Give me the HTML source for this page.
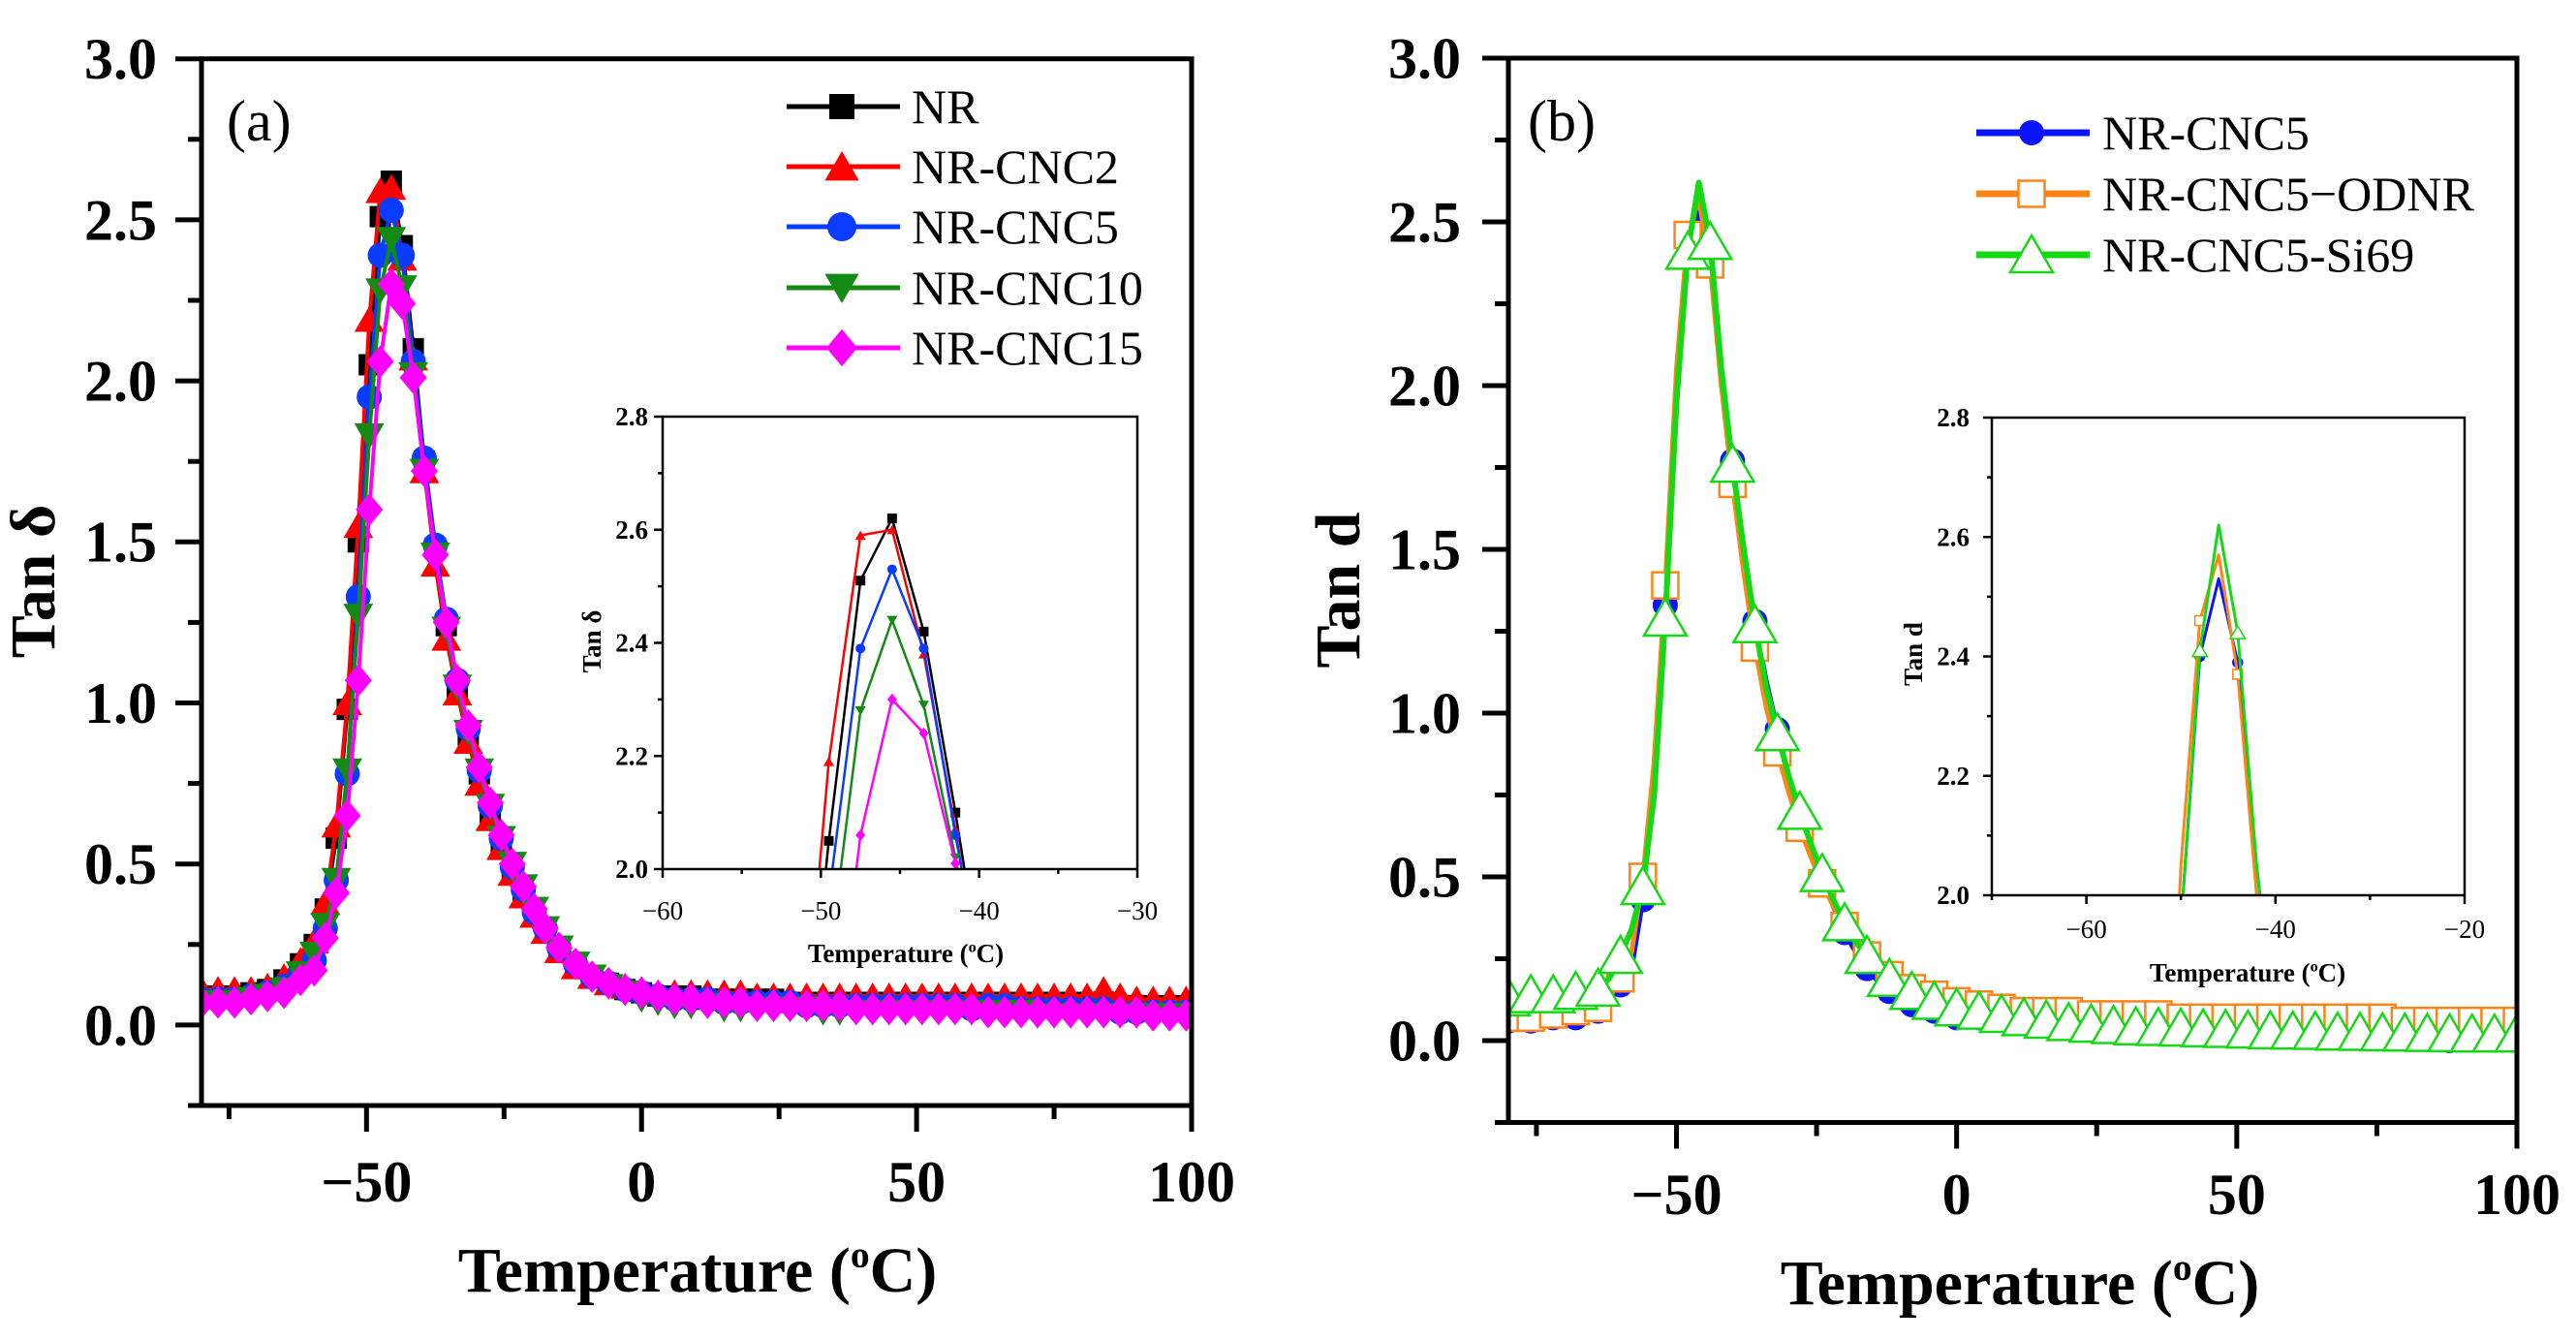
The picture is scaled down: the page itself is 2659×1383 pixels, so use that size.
<!DOCTYPE html>
<html><head><meta charset="utf-8"><style>
html,body{margin:0;padding:0;background:#fff;overflow:hidden;width:2659px;height:1383px;}
svg{display:block;}
svg text{font-family:"Liberation Serif","Times New Roman",Times,serif;}
</style></head><body>
<svg id="chart" width="2659" height="1383" viewBox="0 0 2659 1383" xmlns="http://www.w3.org/2000/svg" font-family="Liberation Serif, Times New Roman, serif">
<defs>
<clipPath id="clipA"><rect x="208" y="60" width="1022" height="1081"/></clipPath>
<clipPath id="clipB"><rect x="1557" y="60" width="1041" height="1099"/></clipPath>
<clipPath id="clipAi"><rect x="684" y="430" width="490" height="467"/></clipPath>
<clipPath id="clipBi"><rect x="2056" y="431" width="488" height="493"/></clipPath>
</defs>
<rect x="0" y="0" width="2659" height="1383" fill="#fff"/>
<g id="panelA"></g>
<g id="panelB"></g>
</svg>
<script>
const NS="http://www.w3.org/2000/svg";
// ---------- Panel (a) data ----------
const tempA=[-80,-77,-74,-71,-68,-65,-62,-59.5,-57.5,-55.5,-53.5,-51.5,-49.5,-47.5,-45.5,-43.5,-41.5,-39.5,-37.5,-35.5,-33.5,-31.5,-29.5,-27.5,-25.5,-23.5,-21.5,-19.5,-17.5,-15,-12,-9,-6,-3,0,3,6,9,12,15,18,21,24,27,30,33,36,39,42,45,48,51,54,57,60,63,66,69,72,75,78,81,84,87,90,93,96,99];
const nrA=[0.09,0.09,0.09,0.10,0.11,0.14,0.19,0.25,0.36,0.58,0.98,1.50,2.05,2.51,2.62,2.42,2.10,1.75,1.48,1.24,1.05,0.90,0.78,0.66,0.56,0.47,0.40,0.34,0.29,0.23,0.18,0.15,0.13,0.11,0.10,0.09,0.09,0.09,0.08,0.08,0.08,0.08,0.08,0.07,0.07,0.07,0.07,0.07,0.07,0.07,0.07,0.07,0.07,0.07,0.07,0.07,0.07,0.07,0.07,0.07,0.07,0.07,0.06,0.06,0.06,0.06,0.06,0.06];
const cnc2A=[0.11,0.11,0.11,0.11,0.12,0.15,0.20,0.26,0.38,0.62,1.00,1.55,2.19,2.59,2.60,2.38,2.07,1.72,1.43,1.20,1.03,0.88,0.75,0.64,0.55,0.47,0.40,0.34,0.29,0.23,0.18,0.15,0.13,0.12,0.11,0.10,0.10,0.10,0.10,0.10,0.10,0.09,0.09,0.09,0.09,0.09,0.09,0.09,0.09,0.09,0.09,0.09,0.09,0.09,0.09,0.09,0.09,0.09,0.09,0.09,0.09,0.09,0.11,0.09,0.08,0.08,0.08,0.08];
const cnc5A=[0.08,0.08,0.08,0.09,0.10,0.12,0.16,0.20,0.30,0.45,0.78,1.33,1.95,2.39,2.53,2.39,2.06,1.76,1.49,1.26,1.07,0.92,0.79,0.68,0.58,0.49,0.42,0.35,0.30,0.24,0.19,0.15,0.13,0.11,0.10,0.09,0.08,0.08,0.08,0.07,0.07,0.07,0.07,0.07,0.06,0.06,0.06,0.06,0.06,0.06,0.06,0.06,0.06,0.06,0.05,0.06,0.06,0.05,0.05,0.05,0.05,0.05,0.05,0.04,0.04,0.04,0.04,0.04];
const cnc10A=[0.07,0.07,0.07,0.08,0.09,0.11,0.16,0.22,0.31,0.45,0.79,1.27,1.83,2.28,2.44,2.29,2.02,1.72,1.46,1.23,1.05,0.91,0.79,0.68,0.58,0.50,0.43,0.36,0.30,0.24,0.19,0.15,0.12,0.10,0.08,0.07,0.06,0.06,0.06,0.05,0.05,0.05,0.05,0.05,0.05,0.04,0.04,0.04,0.04,0.04,0.04,0.04,0.04,0.04,0.04,0.04,0.04,0.04,0.03,0.03,0.03,0.03,0.03,0.03,0.03,0.03,0.03,0.03];
const cnc15A=[0.07,0.07,0.07,0.08,0.09,0.10,0.14,0.17,0.27,0.41,0.65,1.07,1.60,2.06,2.30,2.24,2.01,1.72,1.46,1.25,1.07,0.93,0.80,0.69,0.59,0.50,0.43,0.36,0.30,0.24,0.19,0.15,0.13,0.11,0.10,0.09,0.08,0.08,0.07,0.07,0.07,0.06,0.06,0.06,0.06,0.06,0.06,0.05,0.05,0.05,0.05,0.05,0.05,0.05,0.05,0.04,0.04,0.04,0.04,0.04,0.04,0.04,0.04,0.04,0.04,0.03,0.03,0.03];
// ---------- Panel (b) data ----------
const tempB=[-80,-78,-76,-74,-72,-70,-68,-66,-64,-62,-60,-58,-56,-54,-52,-50,-48,-46,-44,-42,-40,-38,-36,-34,-32,-30,-28,-26,-24,-22,-20,-18,-16,-14,-12,-10,-8,-6,-4,-2,0,2,4,6,8,10,12,14,16,18,20,22,24,26,28,30,32,34,36,38,40,42,44,46,48,50,52,54,56,58,60,62,64,66,68,70,72,74,76,78,80,82,84,86,88,90,92,94,96,98,100];
const cnc5B=[0.06,0.06,0.06,0.06,0.07,0.07,0.07,0.08,0.09,0.12,0.17,0.22,0.43,0.80,1.33,1.95,2.40,2.53,2.39,2.05,1.77,1.50,1.28,1.10,0.95,0.81,0.69,0.59,0.50,0.41,0.33,0.27,0.22,0.18,0.15,0.13,0.11,0.10,0.09,0.08,0.07,0.07,0.07,0.07,0.07,0.07,0.07,0.06,0.06,0.06,0.06,0.06,0.06,0.06,0.06,0.06,0.06,0.06,0.06,0.06,0.06,0.06,0.06,0.06,0.06,0.06,0.06,0.06,0.06,0.06,0.06,0.06,0.06,0.06,0.06,0.06,0.06,0.06,0.06,0.06,0.06,0.06,0.05,0.05,0.00,0.05,0.05,0.05,0.05,0.05,0.05];
const odnrB=[0.07,0.07,0.07,0.08,0.08,0.08,0.09,0.09,0.10,0.13,0.19,0.27,0.50,0.85,1.39,2.05,2.46,2.57,2.37,2.00,1.70,1.43,1.20,1.02,0.88,0.76,0.65,0.56,0.48,0.41,0.35,0.30,0.26,0.23,0.20,0.18,0.16,0.15,0.14,0.13,0.12,0.11,0.11,0.10,0.10,0.10,0.09,0.09,0.09,0.09,0.09,0.08,0.08,0.08,0.08,0.08,0.08,0.08,0.08,0.07,0.07,0.07,0.07,0.07,0.07,0.07,0.07,0.07,0.07,0.07,0.07,0.07,0.07,0.07,0.07,0.07,0.07,0.07,0.07,0.06,0.06,0.06,0.06,0.06,0.06,0.06,0.06,0.06,0.06,0.06,0.06];
const si69B=[0.13,0.13,0.14,0.14,0.14,0.14,0.15,0.15,0.16,0.19,0.26,0.34,0.47,0.75,1.29,1.95,2.41,2.62,2.44,2.05,1.76,1.50,1.27,1.08,0.94,0.81,0.70,0.60,0.51,0.43,0.36,0.30,0.26,0.22,0.19,0.17,0.15,0.13,0.12,0.11,0.10,0.095,0.09,0.085,0.08,0.075,0.07,0.066,0.062,0.058,0.055,0.052,0.05,0.048,0.046,0.044,0.042,0.041,0.04,0.039,0.038,0.037,0.036,0.035,0.034,0.033,0.032,0.031,0.03,0.03,0.029,0.028,0.028,0.027,0.026,0.026,0.025,0.025,0.024,0.024,0.023,0.023,0.022,0.022,0.021,0.021,0.02,0.02,0.02,0.02,0.02];
// ---------- tick labels ----------
const xTicksMain=[-50,0,50,100];
const xMinorMain=[-75,-25,25,75];
const yTicksMain=[0,0.5,1.0,1.5,2.0,2.5,3.0];
const yMinorMain=[-0.25,0.25,0.75,1.25,1.75,2.25,2.75];
const xTicksInsetA=[-60,-50,-40,-30];
const xMinorInsetA=[-55,-45,-35];
const xTicksInsetB=[-60,-40,-20];
const xMinorInsetB=[-70,-50,-30];
const yTicksInset=[2.0,2.2,2.4,2.6,2.8];
const yMinorInset=[2.1,2.3,2.5,2.7];

const FONT="Liberation Serif, Times New Roman, serif";
function lin(d0,d1,r0,r1){return v=>r0+(v-d0)*(r1-r0)/(d1-d0);}
function mk(tag,attrs,parent){const e=document.createElementNS(NS,tag);for(const k in attrs)e.setAttribute(k,attrs[k]);parent.appendChild(e);return e;}
function fmtNum(v,dec){const s=Math.abs(v).toFixed(dec);return (v<0?"\u2212":"")+s;}

function marker(g,shape,cx,cy,s,fill,stroke,sw){
  let el;
  if(shape==="square") el=mk("rect",{x:cx-s/2,y:cy-s/2,width:s,height:s,fill:fill,stroke:stroke,"stroke-width":sw},g);
  else if(shape==="circle") el=mk("circle",{cx:cx,cy:cy,r:s/2,fill:fill,stroke:stroke,"stroke-width":sw},g);
  else if(shape==="tri") el=mk("polygon",{points:`${cx-s*0.55},${cy+s*0.45} ${cx+s*0.55},${cy+s*0.45} ${cx},${cy-s*0.5}`,fill:fill,stroke:stroke,"stroke-width":sw},g);
  else if(shape==="tridown") el=mk("polygon",{points:`${cx-s*0.55},${cy-s*0.45} ${cx+s*0.55},${cy-s*0.45} ${cx},${cy+s*0.5}`,fill:fill,stroke:stroke,"stroke-width":sw},g);
  else el=mk("polygon",{points:`${cx},${cy-s*0.6} ${cx+s*0.5},${cy} ${cx},${cy+s*0.6} ${cx-s*0.5},${cy}`,fill:fill,stroke:stroke,"stroke-width":sw},g);
  
  
  return el;
}

function drawSeries(g,clip,xs,ys,xf,yf,opt,name){
  const sg=mk("g",{"clip-path":`url(#${clip})`},g);
  
  
  const pts=xs.map((x,i)=>`${xf(x).toFixed(1)},${yf(ys[i]).toFixed(1)}`).join(" ");
  const line=mk("polyline",{points:pts,fill:"none",stroke:opt.color,"stroke-width":opt.lw,"stroke-linejoin":"round"},sg);
  
  
  xs.forEach((x,i)=>{ if(i%opt.every===0) marker(sg,opt.shape,xf(x),yf(ys[i]),opt.ms,opt.fill,opt.color,opt.msw); });
}

function axes(g,cfg){
  const {xf,yf,x0,x1,y0,y1,fw,tl,ml,fs,xt,xm,yt,ym,ydec,xlabY,ylabX,bold}=cfg;
  const fr=mk("rect",{x:x0,y:y1,width:x1-x0,height:y0-y1,fill:"none",stroke:"#000","stroke-width":fw},g);
  
  
  xt.forEach(v=>{const t=mk("line",{x1:xf(v),x2:xf(v),y1:y0,y2:y0+tl,stroke:"#000","stroke-width":fw},g);
    
    
    const tx=mk("text",{x:xf(v),y:xlabY,"text-anchor":"middle","font-size":fs,"font-weight":bold,"font-family":FONT},g);tx.textContent=fmtNum(v,0);
    
    });
  xm.forEach(v=>{const t=mk("line",{x1:xf(v),x2:xf(v),y1:y0,y2:y0+ml,stroke:"#000","stroke-width":fw},g);
    
    });
  yt.forEach(v=>{const t=mk("line",{x1:x0-tl,x2:x0,y1:yf(v),y2:yf(v),stroke:"#000","stroke-width":fw},g);
    
    
    const tx=mk("text",{x:ylabX,y:yf(v)+fs*0.34,"text-anchor":"end","font-size":fs,"font-weight":"bold","font-family":FONT},g);tx.textContent=v.toFixed(ydec);
    
    });
  ym.forEach(v=>{const t=mk("line",{x1:x0-ml,x2:x0,y1:yf(v),y2:yf(v),stroke:"#000","stroke-width":fw},g);
    
    });
}
function txt(g,x,y,s,fs,weight,anchor,name,rot){
  const t=mk("text",{x:x,y:y,"font-size":fs,"font-weight":weight,"text-anchor":anchor,"font-family":FONT},g);
  if(rot) t.setAttribute("transform",`rotate(-90 ${x} ${y})`);
  t.textContent=s;
  
  
  return t;
}
function supTitle(g,x,y,fs,name,fw){
  const t=mk("text",{x:x,y:y,"font-size":fs,"font-weight":fw,"text-anchor":"middle","font-family":FONT},g);
  
  
  const a=mk("tspan",{},t);a.textContent="Temperature (";
  const b=mk("tspan",{"font-size":fs*0.6,dy:-fs*0.38},t);b.textContent="o";
  const c=mk("tspan",{dy:fs*0.38},t);c.textContent="C)";
}
function legendRow(g,x0,x1,xm,y,xt,label,opt,fs){
  const lg=mk("g",{},g);
  
  
  mk("line",{x1:x0,x2:x1,y1:y,y2:y,stroke:opt.color,"stroke-width":opt.llw},lg);
  marker(lg,opt.shape,xm,y,opt.lms,opt.fill,opt.color,opt.msw);
  txt(lg,xt,y+fs*0.34,label,fs,"normal","start","legend-label");
}

// ===== Panel A =====
const gA=document.getElementById("panelA");
const xA=lin(-80,100,208,1230), yA=lin(-0.25,3,1141,60.7);
const serA=[
 [nrA,{color:"#000000",shape:"square",fill:"#000000",ms:22,lw:4,every:1,msw:0},"series-nr"],
 [cnc2A,{color:"#ff0000",shape:"tri",fill:"#ff0000",ms:28,lw:4,every:1,msw:0},"series-nr-cnc2"],
 [cnc5A,{color:"#0a3cff",shape:"circle",fill:"#0a3cff",ms:26,lw:4,every:1,msw:0},"series-nr-cnc5"],
 [cnc10A,{color:"#138a13",shape:"tridown",fill:"#138a13",ms:28,lw:4,every:1,msw:0},"series-nr-cnc10"],
 [cnc15A,{color:"#ff00ff",shape:"diamond",fill:"#ff00ff",ms:28,lw:4,every:1,msw:0},"series-nr-cnc15"]];
serA.forEach(s=>drawSeries(gA,"clipA",tempA,s[0],xA,yA,s[1],s[2]));
axes(gA,{name:"main-a",xf:xA,yf:yA,x0:208,x1:1230,y0:1141,y1:60.7,fw:5,tl:27,ml:14,fs:60,xt:xTicksMain,xm:xMinorMain,yt:yTicksMain,ym:yMinorMain,ydec:1,xlabY:1240,ylabX:162,bold:"bold"});
supTitle(gA,720,1333,66,"x-axis-title-a","bold");
txt(gA,56,600,"Tan \u03b4",66,"bold","middle","y-axis-title-a",true);
txt(gA,234,145,"(a)",60,"normal","start","panel-label-a");
const legA=[["NR",0],["NR-CNC2",1],["NR-CNC5",2],["NR-CNC10",3],["NR-CNC15",4]];
const legAy=[110,172,234,297,359];
legA.forEach((l,i)=>{const o=Object.assign({},serA[l[1]][1],{llw:5,lms:serA[l[1]][1].ms+4});legendRow(gA,812,929,869,legAy[i],941,l[0],o,50);});
// inset A
const xAi=lin(-60,-30,684,1174), yAi=lin(2,2.8,897,430);
const bgA=mk("rect",{x:684,y:430,width:490,height:467,fill:"#fff"},gA);


serA.forEach(s=>drawSeries(gA,"clipAi",tempA,s[0],xAi,yAi,Object.assign({},s[1],{ms:10,lw:2.5}),s[2]+"-inset"));
axes(gA,{name:"inset-a",xf:xAi,yf:yAi,x0:684,x1:1174,y0:897,y1:430,fw:2.5,tl:9,ml:5,fs:27,xt:xTicksInsetA,xm:xMinorInsetA,yt:yTicksInset,ym:yMinorInset,ydec:1,xlabY:949,ylabX:669,bold:"normal"});
supTitle(gA,935,993,27,"inset-a-x-title","bold");
txt(gA,620,662,"Tan \u03b4",27,"bold","middle","inset-a-y-title",true);

// ===== Panel B =====
const gB=document.getElementById("panelB");
const xB=lin(-80,100,1557,2598), yB=lin(-0.25,3,1158.5,60);
const serB=[
 [cnc5B,{color:"#0a14ff",shape:"circle",fill:"#0a14ff",ms:26,lw:5,every:2,msw:0},"series-nr-cnc5-b"],
 [odnrB,{color:"#ff8418",shape:"square",fill:"#ffffff",ms:27,lw:5,every:2,msw:2.5},"series-nr-cnc5-odnr"],
 [si69B,{color:"#16d916",shape:"tri",fill:"#ffffff",ms:40,lw:6,every:2,msw:2.5},"series-nr-cnc5-si69"]];
serB.forEach(s=>drawSeries(gB,"clipB",tempB,s[0],xB,yB,s[1],s[2]));
axes(gB,{name:"main-b",xf:xB,yf:yB,x0:1557,x1:2598,y0:1158.5,y1:60,fw:5,tl:27,ml:14,fs:60,xt:xTicksMain,xm:xMinorMain,yt:yTicksMain,ym:yMinorMain,ydec:1,xlabY:1253,ylabX:1508,bold:"bold"});
supTitle(gB,2085,1346,66,"x-axis-title-b","bold");
txt(gB,1403,609,"Tan d",66,"bold","middle","y-axis-title-b",true);
txt(gB,1577,145,"(b)",60,"normal","start","panel-label-b");
const legB=[["NR-CNC5",0],["NR-CNC5\u2212ODNR",1],["NR-CNC5-Si69",2]];
const legBy=[137,200,263];
legB.forEach((l,i)=>{const o=Object.assign({},serB[l[1]][1],{llw:7,lms:serB[l[1]][1].ms});legendRow(gB,2040,2157,2097,legBy[i],2170,l[0],o,50);});
// inset B
const xBi=lin(-70,-20,2056,2544), yBi=lin(2,2.8,924,431);
const bgB=mk("rect",{x:2056,y:431,width:488,height:493,fill:"#fff"},gB);


serB.forEach(s=>drawSeries(gB,"clipBi",tempB,s[0],xBi,yBi,Object.assign({},s[1],{ms:s[1].shape==="tri"?14:10,lw:3,msw:1.5}),s[2]+"-inset"));
axes(gB,{name:"inset-b",xf:xBi,yf:yBi,x0:2056,x1:2544,y0:924,y1:431,fw:2.5,tl:9,ml:5,fs:27,xt:xTicksInsetB,xm:xMinorInsetB,yt:yTicksInset,ym:yMinorInset,ydec:1,xlabY:968,ylabX:2033,bold:"normal"});
supTitle(gB,2320,1013,27,"inset-b-x-title","bold");
txt(gB,1984,675,"Tan d",27,"bold","middle","inset-b-y-title",true);
</script>
</body></html>
